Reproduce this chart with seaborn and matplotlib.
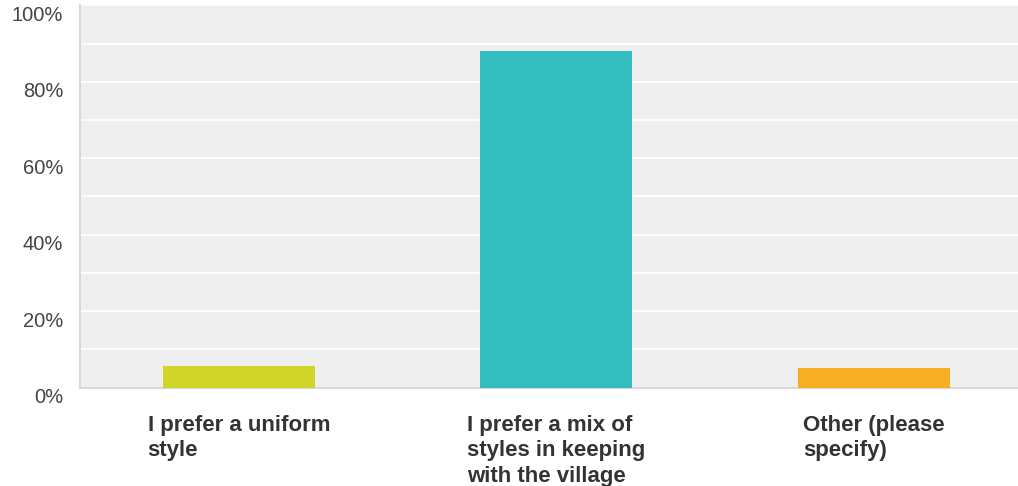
import matplotlib
matplotlib.use("Agg")
import matplotlib.pyplot as plt
import matplotlib.transforms as mtransforms
import seaborn as sns
import pandas as pd
import numpy as np

categories = ["I prefer a uniform\nstyle",
              "I prefer a mix of\nstyles in keeping\nwith the village",
              "Other (please\nspecify)"]
values = [5.7, 88.2, 5.2]
colors = ["#d0d52a", "#33bdbf", "#f6ae22"]
ytick_values = [0, 20, 40, 60, 80, 100]
ytick_labels = ["0%", "20%", "40%", "60%", "80%", "100%"]

sns.set_theme(style="white")
plt.rcParams['font.family'] = ['Liberation Sans', 'DejaVu Sans']

df = pd.DataFrame({"category": categories, "value": values})

W, H = 1018, 486
fig = plt.figure(figsize=(W / 100, H / 100), dpi=100)
ax = fig.add_axes([80 / W, (H - 387.5) / H, 938 / W, 382 / H])
ax.set_facecolor("#efefef")

sns.barplot(data=df, x="category", y="value", hue="category",
            palette=colors, legend=False, width=0.48, ax=ax,
            saturation=1, zorder=3, edgecolor="none")

ax.set_xlim(-0.5, -0.5 + 938 / 317.5)
ax.set_ylim(0, 100)
ax.set_yticks(ytick_values)
ax.set_yticklabels(ytick_labels)
ax.set_yticks(np.arange(0, 101, 10), minor=True)
ax.grid(axis="y", which="both", color="white", linewidth=1.3, zorder=1)
ax.set_axisbelow(True)
ax.tick_params(axis="y", which="both", length=0, pad=12, labelsize=14.5,
               labelcolor="#444444")
ax.tick_params(axis="x", length=0, pad=19.5)
ax.set_xlabel("")
ax.set_ylabel("")

offset = mtransforms.ScaledTranslation(0, -8 / 100, fig.dpi_scale_trans)
for lab in ax.get_yticklabels():
    lab.set_transform(lab.get_transform() + offset)

ax.set_xticks(range(len(categories)))
ax.set_xticklabels(categories, fontsize=16, fontweight="bold", color="#333333",
                   ha="center", multialignment="left", linespacing=1.28)

for s in ["top", "right"]:
    ax.spines[s].set_visible(False)
for s in ["left", "bottom"]:
    ax.spines[s].set_color("#d8d8d8")
    ax.spines[s].set_linewidth(1.5)

fig.savefig("out.png", dpi=100)
